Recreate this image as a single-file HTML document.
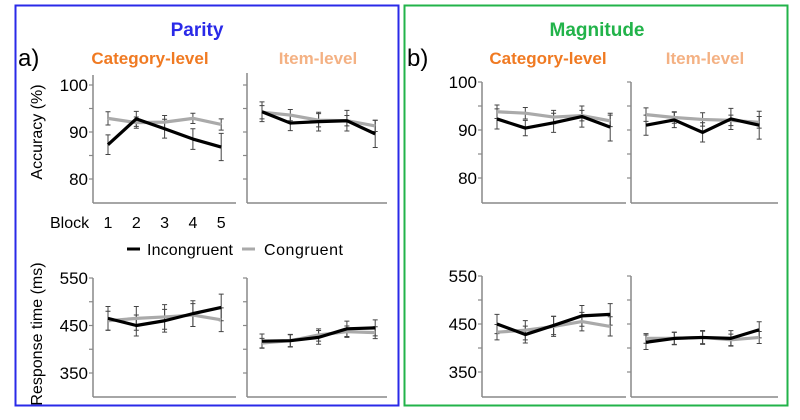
<!DOCTYPE html>
<html><head><meta charset="utf-8"><style>
body{margin:0;background:#fff;}
svg{display:block;font-family:"Liberation Sans",Arial,sans-serif;}
</style></head><body>
<svg id="fig" width="800" height="420" viewBox="0 0 800 420">
<rect x="15.5" y="5.5" width="383" height="400" fill="none" stroke="#2a2ae8" stroke-width="2"/>
<rect x="404.5" y="5.5" width="383" height="400" fill="none" stroke="#22b34a" stroke-width="2"/>
<text x="18" y="66" font-size="24">a)</text>
<text x="407" y="66" font-size="24">b)</text>
<text x="197" y="36" font-size="19" font-weight="bold" fill="#2a2ae8" text-anchor="middle">Parity</text>
<text x="597" y="36" font-size="19" font-weight="bold" fill="#22b34a" text-anchor="middle">Magnitude</text>
<text x="150" y="64" font-size="17" font-weight="bold" fill="#f07a22" text-anchor="middle">Category-level</text>
<text x="318" y="64" font-size="17" font-weight="bold" fill="#f4b183" text-anchor="middle">Item-level</text>
<text x="548" y="64" font-size="17" font-weight="bold" fill="#f07a22" text-anchor="middle">Category-level</text>
<text x="705" y="64" font-size="17" font-weight="bold" fill="#f4b183" text-anchor="middle">Item-level</text>
<text transform="translate(42,132) rotate(-90)" font-size="16" text-anchor="middle">Accuracy (%)</text>
<text transform="translate(42,334) rotate(-90)" font-size="16" text-anchor="middle">Response time (ms)</text>
<text x="50" y="228" font-size="16">Block</text>
<line x1="127" y1="249" x2="140" y2="249" stroke="#000" stroke-width="3"/>
<text x="147" y="255" font-size="16" textLength="86">Incongruent</text>
<line x1="242" y1="249" x2="255" y2="249" stroke="#aaa" stroke-width="3"/>
<text x="264" y="255" font-size="16" textLength="79">Congruent</text>
<g id="plots"></g>
</svg>
<script>
const blocks=[1,2,3,4,5];
const pCatAccInc=[87.3,92.8,90.7,88.5,86.8], pCatAccCon=[92.9,92.0,92.1,92.9,91.6];
const pItemAccInc=[94.3,91.9,92.2,92.4,89.6], pItemAccCon=[94.2,93.6,92.5,92.4,91.3];
const pCatRtInc=[465,450,460,475,488], pCatRtCon=[460,465,468,472,462];
const pItemRtInc=[417,418,425,443,445], pItemRtCon=[413,418,430,437,435];
const mCatAccInc=[92.3,90.4,91.5,92.8,90.6], mCatAccCon=[93.8,93.5,92.7,93.0,91.9];
const mItemAccInc=[91.0,92.1,89.5,92.3,91.0], mItemAccCon=[93.2,92.6,92.2,92.0,91.6];
const mCatRtInc=[450,428,447,467,470], mCatRtCon=[433,437,445,455,445];
const mItemRtInc=[412,420,422,420,438], mItemRtCon=[420,420,422,417,422];
const accErr=[2.1,1.6,2.0,2.2,2.9], accErrC=[1.4,1.2,1.4,1.1,1.2];
const rtErr=[25,22,24,27,28], rtErrC=[20,25,26,24,25];
const accTicks=[80,90,100], rtTicks=[350,450,550];

const NS="http://www.w3.org/2000/svg";
const root=document.getElementById('plots');
function mk(tag,attrs,parent){const e=document.createElementNS(NS,tag);for(const k in attrs)e.setAttribute(k,attrs[k]);(parent||root).appendChild(e);return e;}

function panel(name,ax,top,bottom,xEnd,vMin,vMax,pixMin,pixMax,ticks,minor,labels,inc,con,eInc,eCon){
  const g=mk('g',{});
  
  
  const y=v=>pixMin+(v-vMin)/(vMax-vMin)*(pixMax-pixMin);
  const x=i=>ax+15+(i)*28.3;
  const ya=mk('line',{x1:ax,y1:top,x2:ax,y2:bottom,stroke:'#888','stroke-width':1.5},g);
  
  
  const xa=mk('line',{x1:ax,y1:bottom,x2:xEnd,y2:bottom,stroke:'#888','stroke-width':1.5},g);
  
  
  minor.forEach(t=>{mk('line',{x1:ax-4,y1:y(t),x2:ax,y2:y(t),stroke:'#888','stroke-width':1.2},g);});
  if(labels){ticks.forEach(t=>{const tx=mk('text',{x:ax-5,y:y(t)+6,'font-size':17,'text-anchor':'end'},g);tx.textContent=t;
    
    });}
  [[con,eCon],[inc,eInc]].forEach(([d,e])=>{
    d.forEach((v,i)=>{
      const eb=mk('path',{d:`M${x(i)},${y(v-e[i])}V${y(v+e[i])}M${x(i)-2.5},${y(v-e[i])}h5M${x(i)-2.5},${y(v+e[i])}h5`,stroke:'#444','stroke-width':1,fill:'none'},g);
      
      
    });
  });
  [[con,'#aaa','congruent-line'],[inc,'#000','incongruent-line']].forEach(([d,c,n])=>{
    const p=mk('polyline',{points:d.map((v,i)=>x(i)+','+y(v)).join(' '),fill:'none',stroke:c,'stroke-width':3.2,'stroke-linejoin':'round'},g);
    
    
  });
  return x;
}
const accMinor=[80,85,90,95,100], rtMinor=[350,400,450,500,550];
const xs=panel('parity-category-accuracy',93,75,203,236,80,100,179,85,accTicks,accMinor,true,pCatAccInc,pCatAccCon,accErr,accErrC);
panel('parity-item-accuracy',247,73,203,387,80,100,179,85,accTicks,accMinor,false,pItemAccInc,pItemAccCon,accErr,accErrC);
panel('parity-category-rt',93,278,397,236,350,550,373,278,rtTicks,rtMinor,true,pCatRtInc,pCatRtCon,rtErr,rtErrC);
panel('parity-item-rt',247,278,397,387,350,550,373,278,rtTicks,rtMinor,false,pItemRtInc,pItemRtCon,rtErr.map(v=>v*0.6),rtErrC.map(v=>v*0.5));
panel('magnitude-category-accuracy',482,82,203,626,80,100,178,82,accTicks,accMinor,true,mCatAccInc,mCatAccCon,accErr,accErrC);
panel('magnitude-item-accuracy',631,82,203,778,80,100,178,82,accTicks,accMinor,false,mItemAccInc,mItemAccCon,accErr,accErrC);
panel('magnitude-category-rt',482,276,397,626,350,550,372,276,rtTicks,rtMinor,true,mCatRtInc,mCatRtCon,rtErr.map(v=>v*0.8),rtErrC.map(v=>v*0.8));
panel('magnitude-item-rt',631,276,397,778,350,550,372,276,rtTicks,rtMinor,false,mItemRtInc,mItemRtCon,rtErr.map(v=>v*0.6),rtErrC.map(v=>v*0.5));
blocks.forEach((b,i)=>{
  const t=mk('text',{x:xs(i),y:228,'font-size':16,'text-anchor':'middle'});
  t.textContent=b;
  
  
});
</script>
</body></html>
